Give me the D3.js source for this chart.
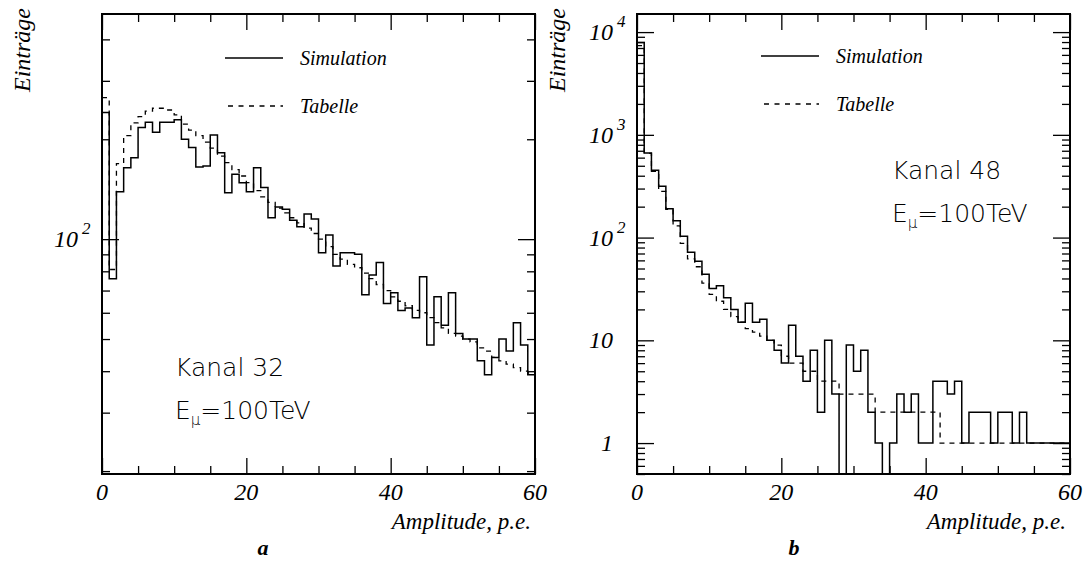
<!DOCTYPE html>
<html>
<head>
<meta charset="utf-8">
<script src="https://cdn.jsdelivr.net/npm/d3@7"></script>
<style>
body { margin: 0; background: #fff; }
.serif { font-family: "Liberation Serif", "Times New Roman", serif; font-style: italic; }
.sans { font-family: "DejaVu Sans", sans-serif; font-weight: 200; }
</style>
</head>
<body>
<svg id="chart" width="1085" height="561"></svg>
<script>
// bin starts, 1 p.e. per bin, 0..59
const binStart = d3.range(0, 60);

// Kanal 32 (panel a)
const simA = [241, 76, 139, 164, 176, 217, 225, 210, 225, 225,
              229, 200, 189, 165, 166, 206, 182, 138, 157, 148,
              139, 164, 143, 116, 125, 123, 114, 109, 119, 115,
              91, 103, 83, 91, 91, 90, 68, 78, 85, 64,
              69, 61, 62, 58, 77, 48, 67, 55, 69, 52,
              50, 50, 43, 39, 44, 50, 46, 56, 48, 39];
const tabA = [267, 81, 169, 205, 224, 234, 243, 248, 248, 245,
              237, 222, 213, 205, 196, 188, 178, 170, 162, 155,
              148, 140, 134, 129, 124, 120, 116, 112, 108, 104,
              100, 95, 90, 87, 84, 82, 79, 76, 73, 70,
              67, 65, 63, 61, 60, 58, 56, 54, 52, 51,
              50, 49, 47, 46, 44, 43, 42, 41, 40, 39.5];

// Kanal 48 (panel b)
const simB = [7900, 664, 452, 316, 191, 146, 103, 72, 59, 44,
              32, 34, 26, 20, 15, 23, 15, 16, 10, 8,
              6, 14, 7, 4, 8, 2, 10, 3, 0, 9,
              5, 8, 2, 1, 0, 1, 3, 2, 3, 1,
              1, 4, 4, 3, 4, 1, 2, 2, 2, 1,
              2, 2, 1, 2, 1, 1, 1, 1, 1, 1];
const tabB = [7400, 660, 440, 282, 188, 130, 88, 62, 52, 36,
              28, 24, 20, 17, 15, 13, 12, 11, 10, 9,
              7, 6, 6, 5, 5, 4, 4, 4, 3, 3,
              3, 3, 3, 2, 2, 2, 2, 2, 2, 2,
              2, 2, 1, 1, 1, 1, 1, 1, 1, 1,
              1, 1, 1, 1, 1, 1, 1, 1, 1, 1];

const xMajorTicks = [0, 20, 40, 60];
const xTickLabels = ['0', '20', '40', '60'];
const yLabelsA = [{v: 100, base: '10', sup: '2'}];
const yLabelsB = [{v: 1, base: '1', sup: ''}, {v: 10, base: '10', sup: ''},
                  {v: 100, base: '10', sup: '2'}, {v: 1000, base: '10', sup: '3'},
                  {v: 10000, base: '10', sup: '4'}];

const svg = d3.select('#chart');
const top_ = 14, bottom = 474, width = 433;

function drawPanel(p) {
    let g = svg.append('g');
    let x = d3.scaleLinear().domain([0, 60]).range([p.left, p.left + width]);
    let y = d3.scaleLog().domain(p.yDomain).range([bottom, top_]);

    svg.append('clipPath').attr('id', p.id + 'clip')
        .append('rect')
        .attr('x', p.left).attr('y', top_)
        .attr('width', width).attr('height', bottom - top_);

    // step histograms
    let line = d3.line()
        .curve(d3.curveStepAfter)
        .x(d => x(d[0]))
        .y(d => d[1] > 0 ? y(d[1]) : bottom + 10);
    function steps(vals) {
        return binStart.map((b, i) => [b, vals[i]]).concat([[60, vals[vals.length - 1]]]);
    }
    g.append('path')
        .attr('d', line(steps(p.tab)))
        .attr('fill', 'none').attr('stroke', '#000').attr('stroke-width', 1.3)
        .attr('stroke-dasharray', '5,5')
        .attr('clip-path', 'url(#' + p.id + 'clip)');
    g.append('path')
        .attr('d', line(steps(p.sim)))
        .attr('fill', 'none').attr('stroke', '#000').attr('stroke-width', 1.5)
        .attr('clip-path', 'url(#' + p.id + 'clip)');

    // ticks, pointing inwards on all four sides
    let xMinor = x.ticks(12).filter(v => xMajorTicks.indexOf(v) < 0);
    let yTicks = y.ticks();
    let yMajor = yTicks.filter(v => Math.abs(Math.log10(v) - Math.round(Math.log10(v))) < 1e-6);
    let yMinor = yTicks.filter(v => yMajor.indexOf(v) < 0);

    function ax(gen, tr, vals, len) {
        g.append('g').attr('transform', tr)
            .call(gen.tickValues(vals).tickSize(-len).tickFormat(''))
            .call(s => s.select('.domain').remove())
            .selectAll('line').attr('stroke', '#000').attr('stroke-width', 1.3);
    }
    ax(d3.axisBottom(x), 'translate(0,' + bottom + ')', xMinor, 8);
    ax(d3.axisBottom(x), 'translate(0,' + bottom + ')', xMajorTicks, 16);
    ax(d3.axisTop(x), 'translate(0,' + top_ + ')', xMinor, 8);
    ax(d3.axisTop(x), 'translate(0,' + top_ + ')', xMajorTicks, 16);
    ax(d3.axisLeft(y), 'translate(' + p.left + ',0)', yMinor, 8);
    ax(d3.axisLeft(y), 'translate(' + p.left + ',0)', yMajor, 17);
    ax(d3.axisRight(y), 'translate(' + (p.left + width) + ',0)', yMinor, 8);
    ax(d3.axisRight(y), 'translate(' + (p.left + width) + ',0)', yMajor, 17);

    // frame
    g.append('rect')
        .attr('x', p.left).attr('y', top_)
        .attr('width', width).attr('height', bottom - top_)
        .attr('fill', 'none').attr('stroke', '#000').attr('stroke-width', 2);

    // x tick labels
    g.selectAll('.xl').data(xMajorTicks).enter().append('text')
        .attr('class', 'serif')
        .attr('x', d => x(d)).attr('y', 500)
        .attr('text-anchor', 'middle').attr('font-size', 24)
        .text((d, i) => xTickLabels[i]);

    // y tick labels with exponent
    p.yLabels.forEach(l => {
        g.append('text').attr('class', 'serif')
            .attr('x', p.left - 24).attr('y', y(l.v) + 8)
            .attr('text-anchor', 'end').attr('font-size', 24)
            .text(l.base);
        if (l.sup) {
            g.append('text').attr('class', 'serif')
                .attr('x', p.left - 20).attr('y', y(l.v) - 5)
                .attr('font-size', 17)
                .text(l.sup);
        }
    });

    // axis titles
    g.append('text').attr('class', 'serif')
        .attr('transform', 'translate(' + (p.left - 72) + ',8) rotate(-90)')
        .attr('text-anchor', 'end').attr('font-size', 24)
        .text('Einträge');
    g.append('text').attr('class', 'serif')
        .attr('x', p.left + width - 4).attr('y', 529)
        .attr('text-anchor', 'end').attr('font-size', 23)
        .text('Amplitude, p.e.');
    g.append('text').attr('class', 'serif')
        .attr('x', p.left + p.letterX).attr('y', 555)
        .attr('text-anchor', 'middle').attr('font-size', 22).attr('font-weight', 'bold')
        .text(p.letter);

    // legend
    g.append('line')
        .attr('x1', p.legX).attr('x2', p.legX + 58)
        .attr('y1', p.legY).attr('y2', p.legY)
        .attr('stroke', '#000').attr('stroke-width', 1.3);
    g.append('line')
        .attr('x1', p.legX + 3).attr('x2', p.legX + 58)
        .attr('y1', p.legY + 48).attr('y2', p.legY + 48)
        .attr('stroke', '#000').attr('stroke-width', 1.3).attr('stroke-dasharray', '5,5.5');
    g.append('text').attr('class', 'serif')
        .attr('x', p.legX + 75).attr('y', p.legY + 7).attr('font-size', 20)
        .text('Simulation');
    g.append('text').attr('class', 'serif')
        .attr('x', p.legX + 75).attr('y', p.legY + 55).attr('font-size', 20)
        .text('Tabelle');

    // channel info
    g.append('text').attr('class', 'sans')
        .attr('x', p.infoX).attr('y', p.infoY).attr('font-size', 25)
        .text(p.kanal);
    let e = g.append('text').attr('class', 'sans')
        .attr('x', p.infoX).attr('y', p.infoY + 43).attr('font-size', 25);
    e.append('tspan').text('E');
    e.append('tspan').attr('font-size', 15).attr('dy', 6).text('μ');
    e.append('tspan').attr('dy', -6).text('=100TeV');
}

drawPanel({id: 'a', left: 102, yDomain: [19.6, 477], sim: simA, tab: tabA,
           yLabels: yLabelsA, letter: 'a', letterX: 161,
           legX: 225, legY: 58, infoX: 175, infoY: 376, kanal: 'Kanal 32'});
drawPanel({id: 'b', left: 637, yDomain: [0.5, 15000], sim: simB, tab: tabB,
           yLabels: yLabelsB, letter: 'b', letterX: 157,
           legX: 761, legY: 56, infoX: 892, infoY: 179, kanal: 'Kanal 48'});
</script>
</body>
</html>
